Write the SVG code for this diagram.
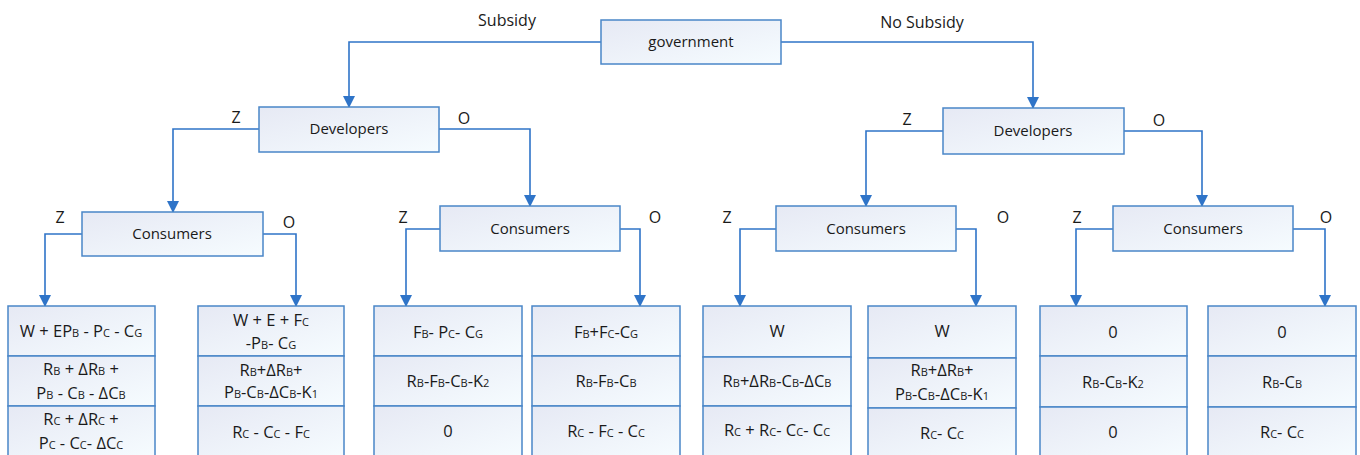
<svg xmlns="http://www.w3.org/2000/svg" width="1360" height="455" viewBox="0 0 1360 455">
<defs>
<linearGradient id="g" x1="0" y1="0" x2="1" y2="1">
<stop offset="0" stop-color="#e6e9f4"/>
<stop offset="1" stop-color="#f6fcff"/>
</linearGradient>
<marker id="a" markerWidth="12" markerHeight="12" refX="11" refY="6" orient="auto" markerUnits="userSpaceOnUse" viewBox="0 0 12 12">
<path d="M0,0 L12,6 L0,12 Z" fill="#2f74c8"/>
</marker>
</defs>
<style>
.b{fill:url(#g);stroke:#4a86c8;stroke-width:1.5}
.c{fill:none;stroke:#2f74c8;stroke-width:1.6}
text{font-family:"Open Sans","Noto Sans",sans-serif;font-size:15px;fill:#1a1a1a;text-anchor:middle}
#labels text{font-size:16px}
.o text{font-size:16.5px}
.o .s{font-size:11px}
.s{font-size:11px}
</style>
<rect width="1360" height="455" fill="#ffffff"/>
<g id="connectors">
<path class="c" d="M601,42 H349 V107" marker-end="url(#a)"/>
<path class="c" d="M781,42 H1033 V108" marker-end="url(#a)"/>
<path class="c" d="M259,129 H173 V212" marker-end="url(#a)"/>
<path class="c" d="M439,129 H530 V206" marker-end="url(#a)"/>
<path class="c" d="M943,131 H866 V206" marker-end="url(#a)"/>
<path class="c" d="M1124,131 H1202 V206" marker-end="url(#a)"/>
<path class="c" d="M82,234 H45 V306" marker-end="url(#a)"/>
<path class="c" d="M263,234 H296 V306" marker-end="url(#a)"/>
<path class="c" d="M440,229 H406 V306" marker-end="url(#a)"/>
<path class="c" d="M620,229 H640 V306" marker-end="url(#a)"/>
<path class="c" d="M776,229 H740 V306" marker-end="url(#a)"/>
<path class="c" d="M956,229 H976 V306" marker-end="url(#a)"/>
<path class="c" d="M1113,229 H1076 V306" marker-end="url(#a)"/>
<path class="c" d="M1293,229 H1325 V306" marker-end="url(#a)"/>
</g>
<g id="labels">
<text x="507" y="26">Subsidy</text>
<text x="922" y="28">No Subsidy</text>
<text x="236" y="123">Z</text>
<text x="464" y="124">O</text>
<text x="907" y="125">Z</text>
<text x="1159" y="126">O</text>
<text x="60" y="223">Z</text>
<text x="289" y="228">O</text>
<text x="403" y="223">Z</text>
<text x="655" y="223">O</text>
<text x="727" y="223">Z</text>
<text x="1003" y="223">O</text>
<text x="1077" y="223">Z</text>
<text x="1326" y="223">O</text>
</g>
<g id="government">
<rect class="b" x="601" y="20" width="180" height="44"/>
<text x="691" y="47">government</text>
</g>
<g id="developers-subsidy">
<rect class="b" x="259" y="107" width="180" height="45"/>
<text x="349" y="134">Developers</text>
</g>
<g id="developers-nosubsidy">
<rect class="b" x="943" y="108" width="181" height="46"/>
<text x="1033" y="136">Developers</text>
</g>
<g id="consumers-1">
<rect class="b" x="82" y="212" width="181" height="44"/>
<text x="172" y="239">Consumers</text>
</g>
<g id="consumers-2">
<rect class="b" x="440" y="206" width="180" height="45"/>
<text x="530" y="234">Consumers</text>
</g>
<g id="consumers-3">
<rect class="b" x="776" y="206" width="180" height="45"/>
<text x="866" y="234">Consumers</text>
</g>
<g id="consumers-4">
<rect class="b" x="1113" y="206" width="180" height="45"/>
<text x="1203" y="234">Consumers</text>
</g>
<g id="outcome-1" class="o">
<rect class="b" x="8" y="306" width="147" height="50"/>
<rect class="b" x="8" y="356" width="147" height="50"/>
<rect class="b" x="8" y="406" width="147" height="52"/>
<text x="81" y="337">W + EP<tspan class="s">B</tspan> - P<tspan class="s">C</tspan> - C<tspan class="s">G</tspan></text>
<text x="81" y="375">R<tspan class="s">B</tspan> + ΔR<tspan class="s">B</tspan> +</text>
<text x="81" y="399">P<tspan class="s">B</tspan> - C<tspan class="s">B</tspan> - ΔC<tspan class="s">B</tspan></text>
<text x="81" y="425">R<tspan class="s">C</tspan> + ΔR<tspan class="s">C</tspan> +</text>
<text x="81" y="449">P<tspan class="s">C</tspan> - C<tspan class="s">C</tspan>- ΔC<tspan class="s">C</tspan></text>
</g>
<g id="outcome-2" class="o">
<rect class="b" x="198" y="306" width="146" height="50"/>
<rect class="b" x="198" y="356" width="146" height="50"/>
<rect class="b" x="198" y="406" width="146" height="52"/>
<text x="271" y="326">W + E + F<tspan class="s">C</tspan></text>
<text x="271" y="349">-P<tspan class="s">B</tspan>- C<tspan class="s">G</tspan></text>
<text x="271" y="376">R<tspan class="s">B</tspan>+ΔR<tspan class="s">B</tspan>+</text>
<text x="271" y="398">P<tspan class="s">B</tspan>-C<tspan class="s">B</tspan>-ΔC<tspan class="s">B</tspan>-K<tspan class="s">1</tspan></text>
<text x="271" y="438">R<tspan class="s">C</tspan> - C<tspan class="s">C</tspan> - F<tspan class="s">C</tspan></text>
</g>
<g id="outcome-3" class="o">
<rect class="b" x="374" y="306" width="148" height="50"/>
<rect class="b" x="374" y="356" width="148" height="50"/>
<rect class="b" x="374" y="406" width="148" height="52"/>
<text x="448" y="338">F<tspan class="s">B</tspan>- P<tspan class="s">C</tspan>- C<tspan class="s">G</tspan></text>
<text x="448" y="387">R<tspan class="s">B</tspan>-F<tspan class="s">B</tspan>-C<tspan class="s">B</tspan>-K<tspan class="s">2</tspan></text>
<text x="448" y="437">0</text>
</g>
<g id="outcome-4" class="o">
<rect class="b" x="532" y="306" width="148" height="50"/>
<rect class="b" x="532" y="356" width="148" height="50"/>
<rect class="b" x="532" y="406" width="148" height="52"/>
<text x="606" y="338">F<tspan class="s">B</tspan>+F<tspan class="s">C</tspan>-C<tspan class="s">G</tspan></text>
<text x="606" y="387">R<tspan class="s">B</tspan>-F<tspan class="s">B</tspan>-C<tspan class="s">B</tspan></text>
<text x="606" y="437">R<tspan class="s">C</tspan> - F<tspan class="s">C</tspan> - C<tspan class="s">C</tspan></text>
</g>
<g id="outcome-5" class="o">
<rect class="b" x="703" y="306" width="148" height="51"/>
<rect class="b" x="703" y="357" width="148" height="49"/>
<rect class="b" x="703" y="406" width="148" height="52"/>
<text x="777" y="337">W</text>
<text x="777" y="387">R<tspan class="s">B</tspan>+ΔR<tspan class="s">B</tspan>-C<tspan class="s">B</tspan>-ΔC<tspan class="s">B</tspan></text>
<text x="777" y="436">R<tspan class="s">C</tspan> + R<tspan class="s">C</tspan>- C<tspan class="s">C</tspan>- C<tspan class="s">C</tspan></text>
</g>
<g id="outcome-6" class="o">
<rect class="b" x="868" y="306" width="148" height="52"/>
<rect class="b" x="868" y="358" width="148" height="50"/>
<rect class="b" x="868" y="408" width="148" height="50"/>
<text x="942" y="337">W</text>
<text x="942" y="376">R<tspan class="s">B</tspan>+ΔR<tspan class="s">B</tspan>+</text>
<text x="942" y="400">P<tspan class="s">B</tspan>-C<tspan class="s">B</tspan>-ΔC<tspan class="s">B</tspan>-K<tspan class="s">1</tspan></text>
<text x="942" y="439">R<tspan class="s">C</tspan>- C<tspan class="s">C</tspan></text>
</g>
<g id="outcome-7" class="o">
<rect class="b" x="1040" y="306" width="147" height="50"/>
<rect class="b" x="1040" y="356" width="147" height="51"/>
<rect class="b" x="1040" y="407" width="147" height="51"/>
<text x="1113" y="338">0</text>
<text x="1113" y="388">R<tspan class="s">B</tspan>-C<tspan class="s">B</tspan>-K<tspan class="s">2</tspan></text>
<text x="1113" y="438">0</text>
</g>
<g id="outcome-8" class="o">
<rect class="b" x="1208" y="306" width="148" height="50"/>
<rect class="b" x="1208" y="356" width="148" height="51"/>
<rect class="b" x="1208" y="407" width="148" height="51"/>
<text x="1282" y="338">0</text>
<text x="1282" y="388">R<tspan class="s">B</tspan>-C<tspan class="s">B</tspan></text>
<text x="1282" y="438">R<tspan class="s">C</tspan>- C<tspan class="s">C</tspan></text>
</g>
</svg>
